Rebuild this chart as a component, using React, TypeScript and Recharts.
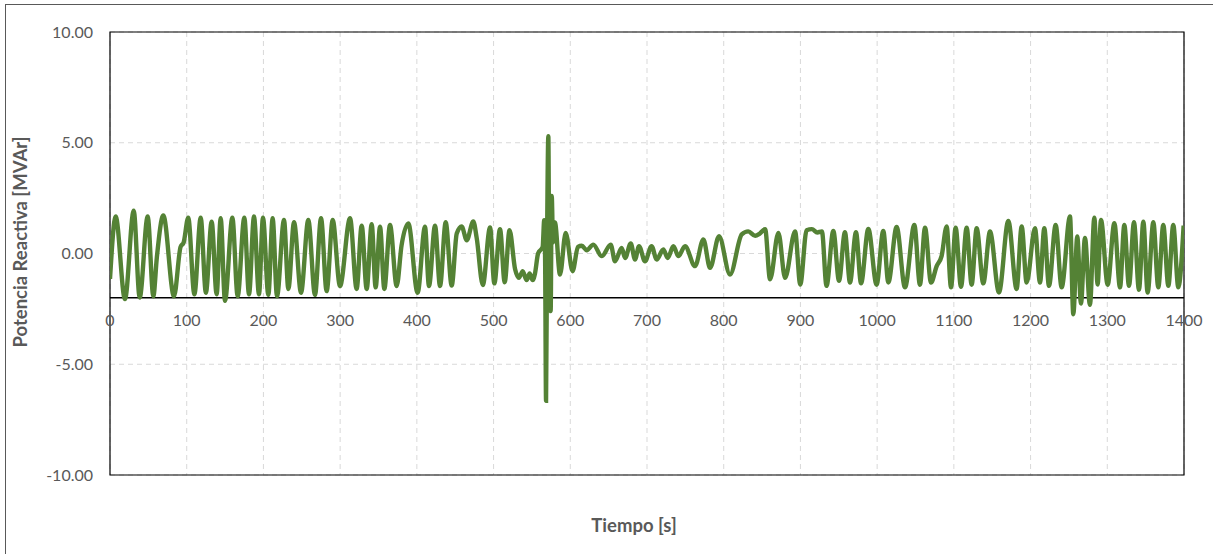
import React from 'react';
import { LineChart, Line, XAxis, YAxis, CartesianGrid, ReferenceLine, ReferenceArea } from 'recharts';

// Time [s]
const timeS: number[] = [
  0, 7.4, 19.5, 30.9, 38.7, 49.1, 56.5, 61, 69.5, 83.4, 92, 96, 102, 110, 118.2, 125, 132.5, 139, 144.3, 149.9,
  159.5, 166.4, 175.1, 181.2, 187.7, 194.2, 199.4, 206.4, 212, 217.7, 226.8, 232.5, 239.9, 249, 258.5, 267.2,
  275.1, 282.4, 290.3, 299.8, 312.9, 321.5, 328.1, 334.6, 341.1, 346.3, 352, 357.6, 365, 373.7, 380, 388.9,
  401, 410.6, 415.8, 423.7, 430.2, 437.6, 445.4, 452, 458.4, 465, 473.6, 478, 486, 495.4, 501, 508.4, 514.5,
  520.8, 528, 533, 538, 543, 547, 551, 554, 558, 564, 566, 567.2, 568.4, 569.8, 571.4, 572.6, 573.5, 574.4,
  575.8, 577.5, 580, 586.6, 594, 603, 610, 615, 621.4, 630, 641, 652.7, 658.3, 667, 671.4, 678.8, 684.4,
  689.6, 697.4, 706, 712.6, 721.3, 727, 734.4, 740.9, 749.6, 762.6, 773.5, 782.2, 793.9, 808.2, 823.5, 832,
  841, 847, 854, 860.4, 871.3, 880, 893, 899.8, 908, 915, 922, 928, 934, 942.9, 950.3, 958, 964.6, 972.4,
  979, 988.5, 999.3, 1008, 1014.6, 1025.4, 1036.3, 1048.5, 1055.8, 1062.4, 1070.2, 1077.6, 1084, 1090.6,
  1096.3, 1102.3, 1109.3, 1116.7, 1123.2, 1129.7, 1138.4, 1147.1, 1158.8, 1171, 1181.8, 1188.4, 1194.9,
  1205.7, 1212.3, 1217.9, 1224, 1232.7, 1240.5, 1251.4, 1255.7, 1260.9, 1265.7, 1270.9, 1277.4, 1283.1,
  1287.4, 1291.8, 1300.5, 1309.2, 1316.6, 1322.2, 1328.3, 1334.8, 1341.3, 1347, 1352.6, 1360, 1366.5, 1373,
  1379.6, 1386, 1392.6, 1399.5,
];

// Reactive power [MVAr]
const mvar: number[] = [
  -1.15, 1.67, -2.06, 1.93, -1.99, 1.67, -1.93, -0.2, 1.72, -1.93, 0.3, 0.5, 1.62, -1.84, 1.62, -1.77, 1.44, -1.84, 1.59, -2.14,
  1.62, -1.93, 1.62, -1.84, 1.67, -1.84, 1.62, -1.87, 1.59, -1.93, 1.51, -1.6, 1.41, -1.77, 1.51, -1.87,
  1.59, -1.7, 1.51, -1.47, 1.59, -1.6, 1.26, -1.6, 1.32, -1.53, 1.21, -1.6, 1.29, -1.47, 0.35, 1.36,
  -1.77, 1.21, -1.47, 1.26, -1.47, 1.41, -1.45, 0.9, 1.22, 0.6, 1.45, 0.7, -1.42, 1.18, -1.35, 1.1, -1.3,
  1.05, -0.7, -1.1, -0.8, -1.2, -0.9, -1.2, -0.9, 0.0, 0.3, 1.5, -0.3, -6.65, 0.8, 5.3, -0.3, 2.4, -2.6,
  2.6, 0.5, 1.4, -0.95, 0.93, -0.8, 0.3, 0.35, 0.15, 0.4, -0.12, 0.4, -0.35, 0.25, -0.2, 0.45, -0.27,
  0.33, -0.35, 0.33, -0.27, 0.18, -0.2, 0.33, -0.12, 0.33, -0.57, 0.63, -0.65, 0.78, -0.95, 0.86, 1.0,
  0.8, 0.9, 1.1, -1.17, 0.93, -1.1, 1.0, -1.4, 1.05, 1.1, 0.95, 1.0, -1.46, 1.02, -1.23, 0.96, -1.31, 0.96,
  -1.35, 1.11, -1.41, 1.02, -1.31, 1.2, -1.53, 1.29, -1.41, 1.17, -1.31, -0.57, -0.12, 1.22,
  -1.53, 1.17, -1.5, 1.17, -1.41, 1.14, -1.35, 0.99, -1.76, 1.47, -1.6, 1.22, -1.31,
  1.14, -1.31, 1.14, -1.46, 1.29, -1.53, 1.67, -2.74, 0.77, -2.26, 0.7, -2.32, 1.62,
  -1.4, 1.51, -1.41, 1.37, -1.53, 1.29, -1.46, 1.41, -1.64, 1.44, -1.76, 1.41, -1.53, 1.29,
  -1.46, 1.29, -1.53, 1.26,
];

const xTicks: number[] = [0, 100, 200, 300, 400, 500, 600, 700, 800, 900, 1000, 1100, 1200, 1300, 1400];
const yTicks: number[] = [-10, -5, 0, 5, 10];
const xTitle = 'Tiempo [s]';
const yTitle = 'Potencia Reactiva [MVAr]';

const data = timeS.map((t, i) => ({ t, q: mvar[i] }));

const W = 1213;
const H = 554;
const M = { top: 32, right: 29, left: 10, bottom: 49 };
const Y_AXIS_W = 100;
const X_AXIS_H = 30;
const Y_MIN = -10;
const Y_MAX = 10;
const CROSS = -2;
const plotH = H - M.top - M.bottom - X_AXIS_H;
const crossOffset = (plotH * (CROSS - Y_MIN)) / (Y_MAX - Y_MIN);

const FONT = 'Lato, "Open Sans", sans-serif';
const TXT = '#595959';

const XTick = (props: any) => {
  const { x, y, payload } = props;
  return (
    <text
      x={x}
      y={y - crossOffset + 22}
      textAnchor="middle"
      dominantBaseline="central"
      fill={TXT}
      fontSize={16}
      fontFamily={FONT}
    >
      {payload.value}
    </text>
  );
};

export default function App() {
  return (
    <div
      style={{
        position: 'absolute',
        left: 0,
        top: 0,
        width: W,
        height: H,
        overflow: 'hidden',
        background: '#fff',
        fontFamily: FONT,
      }}
    >
      <div
        style={{
          position: 'absolute',
          left: 5,
          top: 4,
          width: W + 50,
          height: H + 50,
          border: '1px solid #595959',
          boxSizing: 'border-box',
        }}
      />
      <div style={{ position: 'absolute', left: 0, top: 0 }}>
        <LineChart width={W} height={H} data={data} margin={M}>
          <CartesianGrid stroke="#d9d9d9" strokeDasharray="5 4" strokeWidth={1} />
          <XAxis
            dataKey="t"
            type="number"
            domain={[0, 1400]}
            ticks={xTicks}
            interval={0}
            height={X_AXIS_H}
            axisLine={false}
            tickLine={false}
            tickSize={0}
            tickMargin={0}
            tick={<XTick />}
            allowDataOverflow
          />
          <YAxis
            type="number"
            domain={[Y_MIN, Y_MAX]}
            ticks={yTicks}
            interval={0}
            width={Y_AXIS_W}
            axisLine={false}
            tickLine={false}
            tickSize={0}
            tickMargin={17}
            tickFormatter={(v: number) => v.toFixed(2)}
            tick={{ fill: TXT, fontSize: 16, fontFamily: FONT }}
            allowDataOverflow
          />
          <ReferenceArea x1={0} x2={1400} y1={Y_MIN} y2={Y_MAX} fill="none" stroke="#000" strokeWidth={1.2} fillOpacity={0} />
          <ReferenceLine y={CROSS} stroke="#000" strokeWidth={1.6} />
          <Line
            type="monotone"
            dataKey="q"
            stroke="#548235"
            strokeWidth={4.4}
            dot={false}
            activeDot={false}
            isAnimationActive={false}
          />
        </LineChart>
      </div>
      <div
        style={{
          position: 'absolute',
          left: 20,
          top: 242,
          transform: 'translate(-50%, -50%) rotate(-90deg)',
          whiteSpace: 'nowrap',
          fontWeight: 700,
          fontSize: 18.5,
          color: TXT,
        }}
      >
        {yTitle}
      </div>
      <div
        style={{
          position: 'absolute',
          left: 634,
          top: 525,
          transform: 'translate(-50%, -50%)',
          whiteSpace: 'nowrap',
          fontWeight: 700,
          fontSize: 18.5,
          color: TXT,
        }}
      >
        {xTitle}
      </div>
    </div>
  );
}
